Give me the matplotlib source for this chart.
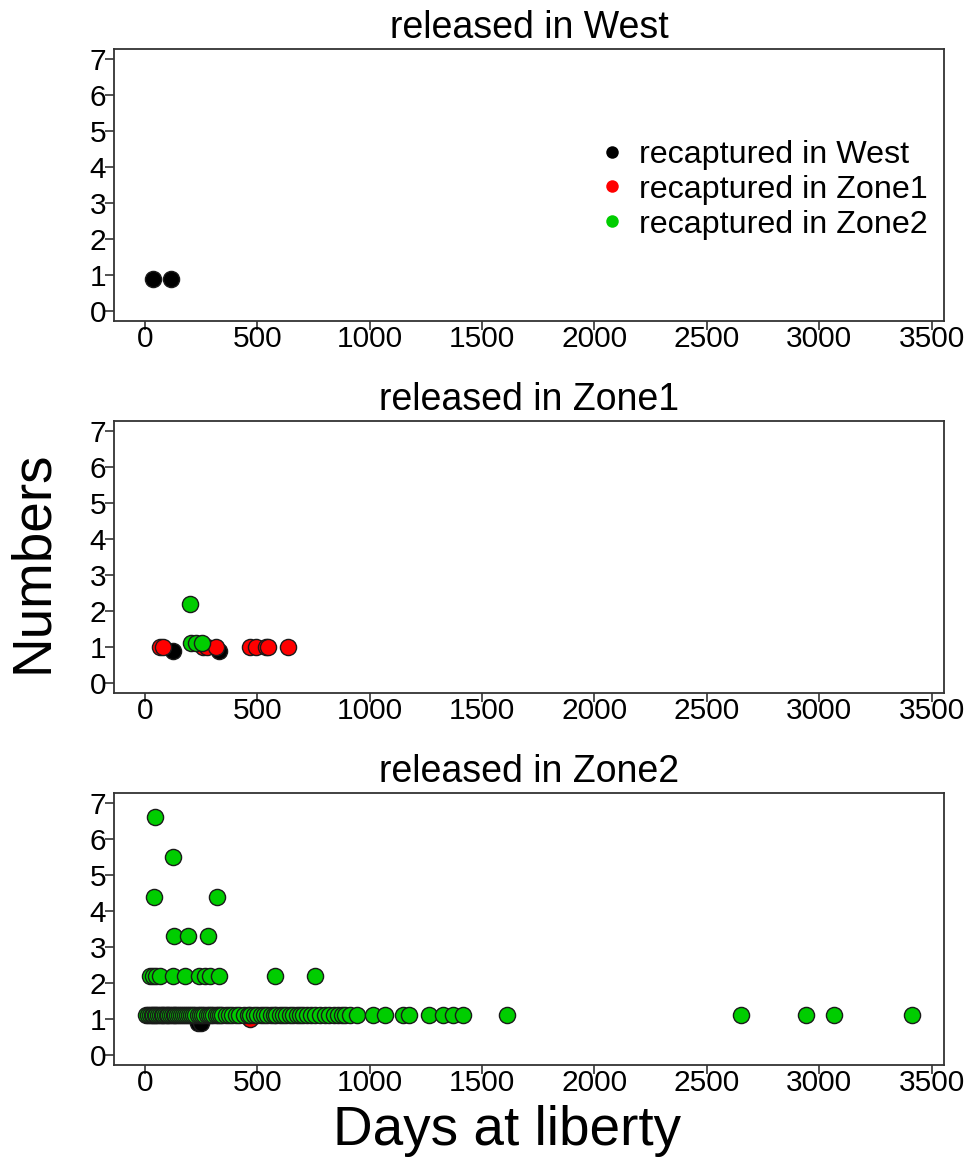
import matplotlib
matplotlib.use("Agg")
import matplotlib.pyplot as plt
from matplotlib.lines import Line2D

plt.rcParams['font.family'] = ['Liberation Sans', 'DejaVu Sans']

# panel titles (release area)
panels = ["released in West", "released in Zone1", "released in Zone2"]

# recapture area -> colour and vertical offset factor used in the original plot
areas = ["West", "Zone1", "Zone2"]
colours = {"West": "#000000", "Zone1": "#ff0000", "Zone2": "#00cd00"}
offset = {"West": 0.9, "Zone1": 1.0, "Zone2": 1.1}

# days at liberty / numbers recaptured, per release panel and recapture area
west_west_days = [36, 116]
west_west_n = [1, 1]

z1_west_days = [124, 330]
z1_west_n = [1, 1]
z1_z1_days = [67, 80, 261, 276, 318, 469, 493, 539, 547, 639]
z1_z1_n = [1, 1, 1, 1, 1, 1, 1, 1, 1, 1]
z1_z2_days = [202, 207, 226, 254]
z1_z2_n = [2, 1, 1, 1]

z2_west_days = [238, 252]
z2_west_n = [1, 1]
z2_z1_days = [467]
z2_z1_n = [1]

# released in Zone2, recaptured in Zone2, grouped by number recaptured
z2_z2_days_6 = [44]
z2_z2_days_5 = [126]
z2_z2_days_4 = [41, 319]
z2_z2_days_3 = [128, 190, 282]
z2_z2_days_2 = [22, 37, 52, 67, 126, 178, 242, 267, 289, 331, 578, 759]
z2_z2_days_1 = [7, 15, 22, 30, 37, 44, 52, 60, 67, 75, 82, 90, 97, 105, 112,
                120, 128, 136, 145, 152, 160, 170, 178, 186, 195, 205, 215,
                225, 236, 245, 255, 265, 275, 285, 296, 305, 315, 325, 335,
                345, 360, 375, 390, 405, 420, 440, 457, 470, 485, 500, 515,
                530, 545, 560, 575, 585, 600, 615, 630, 645, 660, 675, 690,
                705, 720, 740, 756, 780, 800, 820, 840, 860, 875, 890, 912,
                942, 1016, 1069, 1149, 1174, 1263, 1327, 1371, 1416, 1613,
                2654, 2943, 3065, 3413]

z2_z2_days = (z2_z2_days_6 + z2_z2_days_5 + z2_z2_days_4 + z2_z2_days_3
              + z2_z2_days_2 + z2_z2_days_1)
z2_z2_n = ([6] * len(z2_z2_days_6) + [5] * len(z2_z2_days_5)
           + [4] * len(z2_z2_days_4) + [3] * len(z2_z2_days_3)
           + [2] * len(z2_z2_days_2) + [1] * len(z2_z2_days_1))

data = [
    {"West": (west_west_days, west_west_n)},
    {"West": (z1_west_days, z1_west_n), "Zone1": (z1_z1_days, z1_z1_n),
     "Zone2": (z1_z2_days, z1_z2_n)},
    {"West": (z2_west_days, z2_west_n), "Zone1": (z2_z1_days, z2_z1_n),
     "Zone2": (z2_z2_days, z2_z2_n)},
]

fig = plt.figure(figsize=(9.74, 11.58), dpi=100)

left, width, height = 114 / 974, 830 / 974, 272 / 1158
bottoms = [1 - 321 / 1158, 1 - 693 / 1158, 1 - 1065 / 1158]

for i in range(3):
    ax = fig.add_axes([left, bottoms[i], width, height])
    for area in areas:
        if area not in data[i]:
            continue
        days, n = data[i][area]
        y = [v * offset[area] for v in n]
        ax.scatter(days, y, s=135, c=colours[area], edgecolors="#1a1a1a",
                   linewidths=1.0, zorder=3)

    ax.set_xlim(-137, 3555)
    ax.set_ylim(-0.28, 7.28)
    ax.set_xticks(range(0, 3501, 500))
    ax.set_yticks(range(0, 8))
    for s in ax.spines.values():
        s.set_linewidth(1.3)
        s.set_color("#333333")
    ax.tick_params(axis="both", direction="out", length=6.5, width=1.2,
                   color="#333333", labelsize=21.5)
    ax.tick_params(axis="x", pad=-3.5)
    ax.tick_params(axis="y", pad=-1)
    ax.set_title(panels[i], fontsize=27, pad=8)

    if i == 0:
        handles = [Line2D([], [], marker="o", linestyle="none", markersize=9,
                          markerfacecolor=colours[a], markeredgecolor="none")
                   for a in areas]
        ax.legend(handles, ["recaptured in " + a for a in areas],
                  loc="upper right", bbox_to_anchor=(1.0, 0.725),
                  frameon=False, fontsize=23.2, handletextpad=0.35,
                  labelspacing=0.15, borderpad=0, handlelength=1.0)

fig.text(507 / 974, 1 - 1131 / 1158, "Days at liberty", fontsize=39.5,
         ha="center", va="center")
fig.text(33 / 974, 1 - 562 / 1158, "Numbers", fontsize=39.5, rotation=90,
         ha="center", va="center")

fig.savefig("out.png", dpi=100)
